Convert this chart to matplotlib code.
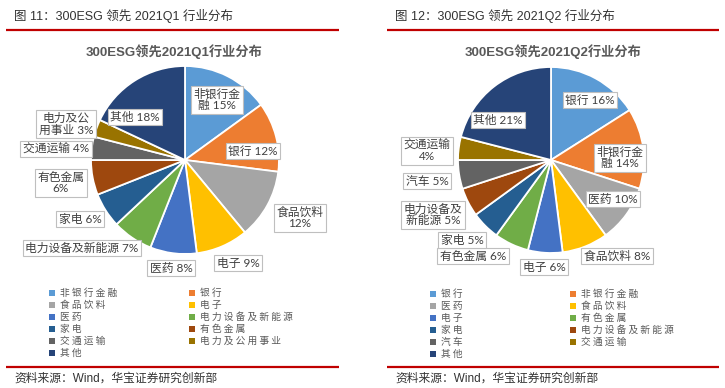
import numpy as np
import matplotlib
matplotlib.use('Agg')
import matplotlib.pyplot as plt

plt.rcParams['font.family'] = ['Noto Sans CJK SC', 'DejaVu Sans']
LATIN_CJK = ['Liberation Sans', 'Noto Sans CJK SC']
LABEL_FONT = ['Lato', 'Noto Sans CJK SC']

# ── Données ────────────────────────────────────────────────────────────
q1_names = ['非银行金融', '银行', '食品饮料', '电子', '医药', '电力设备及新能源',
            '家电', '有色金属', '交通运输', '电力及公用事业', '其他']
q1_vals = [15, 12, 12, 9, 8, 7, 6, 6, 4, 3, 18]

q2_names = ['银行', '非银行金融', '医药', '食品饮料', '电子', '有色金属',
            '家电', '电力设备及新能源', '汽车', '交通运输', '其他']
q2_vals = [16, 14, 10, 8, 6, 6, 5, 5, 5, 4, 21]

palette = ['#5B9BD5', '#ED7D31', '#A5A5A5', '#FFC000', '#4472C4', '#70AD47',
           '#255E91', '#9E480E', '#636363', '#997300', '#264478']

# ── Mise en page (pixels, origine en haut à gauche) ───────────────────
W, H = 725, 388
RED = '#C00000'
TXT = '#404040'

q1_wrap = [4, None, 4, None, None, None, None, 4, None, 4, None]
q2_wrap = [None, 4, None, None, None, None, None, 5, None, 4, None]

q1_lab_pos = [(217, 100), (253, 151), (300, 218), (238, 263), (171, 268), (82, 248),
              (80, 219), (61, 183), (56, 149), (66, 124), (135, 117)]
q2_lab_pos = [(590, 100), (620, 158), (613, 199), (617, 256), (544, 267), (473, 256),
              (462, 240), (433, 215), (427, 181), (427, 151), (498, 120)]

panels = [
    dict(names=q1_names, vals=q1_vals, wrap=q1_wrap, lab_pos=q1_lab_pos,
         center=(185, 160), R=94, head='图 11：300ESG 领先 2021Q1 行业分布', head_x=14,
         title='300ESG领先2021Q1行业分布', title_x=174, line=(6, 339),
         leg_x=(52, 192), leg_y=292.5),
    dict(names=q2_names, vals=q2_vals, wrap=q2_wrap, lab_pos=q2_lab_pos,
         center=(551, 160), R=93, head='图 12：300ESG 领先 2021Q2 行业分布', head_x=395,
         title='300ESG领先2021Q2行业分布', title_x=553, line=(387, 719),
         leg_x=(433, 573), leg_y=293.5),
]


def Y(y):
    return H - y


def label_text(name, val, k):
    pct = f'{val}%'
    if k is None:
        return f'{name} {pct}'
    rest = name[k:]
    if rest:
        return f'{name[:k]}\n{rest} {pct}'
    return f'{name}\n{pct}'


fig = plt.figure(figsize=(W / 100, H / 100), dpi=100)
ax = fig.add_axes([0, 0, 1, 1])

for p in panels:
    cx, cy = p['center']
    wedges, _ = ax.pie(p['vals'], colors=palette, startangle=90, counterclock=False,
                       center=(cx, Y(cy)), radius=p['R'],
                       wedgeprops=dict(edgecolor='white', linewidth=1.3))

    # étiquettes encadrées
    for name, val, k, (lx, ly) in zip(p['names'], p['vals'], p['wrap'], p['lab_pos']):
        ax.text(lx, Y(ly), label_text(name, val, k), ha='center', va='center',
                multialignment='center', fontsize=8.5, color=TXT, linespacing=1.05,
                family=LABEL_FONT,
                bbox=dict(boxstyle='square,pad=0.22', facecolor='white',
                          edgecolor='#BFBFBF', linewidth=0.8), zorder=5)

    # en-tête + filets rouges
    ax.text(p['head_x'], Y(16), p['head'], ha='left', va='center', fontsize=9,
            color='#333333', family=LATIN_CJK)
    x0, x1 = p['line']
    ax.plot([x0, x1], [Y(29.5), Y(29.5)], color=RED, linewidth=1.6, solid_capstyle='butt')
    ax.plot([x0, x1], [Y(367), Y(367)], color=RED, linewidth=1.6, solid_capstyle='butt')
    ax.text(p['head_x'], Y(379), '资料来源：Wind，华宝证券研究创新部', ha='left', va='center',
            fontsize=8.5, color='#333333', family=LATIN_CJK)

    # titre du graphique
    ax.text(p['title_x'], Y(52), p['title'], ha='center', va='center', fontsize=9.5,
            fontweight='bold', color='#595959', family=LATIN_CJK)

    # légende sur deux colonnes, ordre ligne par ligne
    for i, (name, w) in enumerate(zip(p['names'], wedges)):
        col, row = i % 2, i // 2
        mx = p['leg_x'][col]
        my = p['leg_y'] + row * 12.1
        ax.scatter([mx], [Y(my)], marker='s', s=22, color=w.get_facecolor(), linewidths=0)
        ax.text(mx + 8, Y(my), ' '.join(name), ha='left', va='center', fontsize=7,
                color='#595959')

ax.set_xlim(0, W)
ax.set_ylim(0, H)
ax.set_aspect('auto')
ax.axis('off')

fig.savefig('out.png', dpi=100)
